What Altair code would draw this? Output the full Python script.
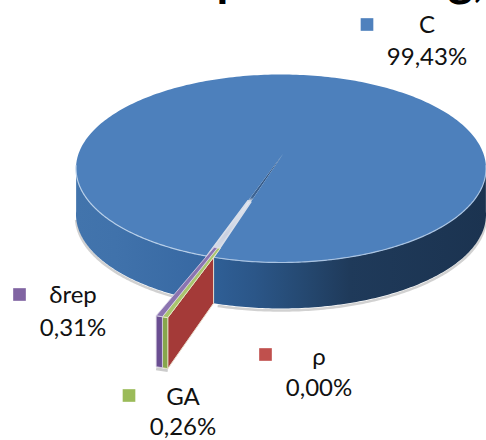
import math

import altair as alt
import pandas as pd

# Share of each component, in the order the slices run clockwise.
names = ["C", "ρ", "GA", "δrep"]
shares = [99.43, 0.00, 0.26, 0.31]
swatches = ["#4F81BD", "#C0504D", "#9BBB59", "#8064A2"]

# Where each legend entry sits: swatch centre, then label centre.
swatch_x = [367, 265.5, 129, 19.5]
swatch_y = [24.5, 354.5, 395.5, 294.5]
label_x = [427, 319, 183, 73]
name_y = [26, 358, 398, 296]
value_y = [58, 389, 428, 329]

# Pie geometry in canvas units.
CX, CY, RX, RY = 281, 168.5, 205, 94
APEX = (283, 154)
DEPTH = 46
DEPTH_OUT = 51
EXPLODE = 1.68
FIRST_ANGLE = 201.25

W, H = 486, 440
x_scale = alt.Scale(domain=[0, W])
y_scale = alt.Scale(domain=[H, 0])


def x_of(field):
    return alt.X(field, scale=x_scale, axis=None)


def y_of(field):
    return alt.Y(field, scale=y_scale, axis=None)


def rim(theta, r=1.0, drop=0.0):
    a = math.radians(theta)
    return (CX + r * RX * math.sin(a), CY - r * RY * math.cos(a) + drop)


def sweep(a, b, r=1.0, drop=0.0, n=120):
    return [rim(a + (b - a) * i / n, r, drop) for i in range(n + 1)]


def toward(p, q, t):
    return (p[0] + (q[0] - p[0]) * t, p[1] + (q[1] - p[1]) * t)


def table(points):
    return pd.DataFrame(
        {"x": [p[0] for p in points], "y": [p[1] for p in points], "i": range(len(points))}
    )


def polygon(points, fill, stroke=None, stroke_width=0.0):
    pts = list(points) + [points[0]]
    mark = alt.Chart(table(pts)).mark_line(
        fill=fill,
        stroke=stroke if stroke else "transparent",
        strokeWidth=stroke_width,
        interpolate="linear",
    )
    return mark.encode(x=x_of("x:Q"), y=y_of("y:Q"), order="i:Q")


def outline(points, color, width, opacity=1.0):
    mark = alt.Chart(table(points)).mark_line(
        color=color, strokeWidth=width, opacity=opacity, interpolate="linear"
    )
    return mark.encode(x=x_of("x:Q"), y=y_of("y:Q"), order="i:Q")


def gradient(stops, horizontal=True):
    return alt.LinearGradient(
        gradient="linear",
        stops=[alt.GradientStop(offset=o, color=c) for o, c in stops],
        x1=0,
        x2=1 if horizontal else 0,
        y1=0,
        y2=0 if horizontal else 1,
    )


# Slice boundaries, clockwise from the top of the pie.
share_sum = sum(shares)
edges = [FIRST_ANGLE]
for s in shares:
    edges.append(edges[-1] + 360 * s / share_sum)
c_end, rho_end, ga_end, delta_end = edges[1:]
rho_a = c_end - 360
ga_a = rho_end - 360
delta_a = ga_end - 360
delta_b = delta_end - 360

layers = []

# Soft ground shadows under the pie and the pulled-out slices.
layers.append(outline(sweep(92, 198, drop=DEPTH + 2), "#9a9a9a", 2.5, 0.45))
layers.append(outline(sweep(203, 268, drop=DEPTH + 2), "#9a9a9a", 2.5, 0.45))
layers.append(
    outline([rim(delta_b, EXPLODE, DEPTH_OUT + 2), rim(rho_a, EXPLODE, DEPTH_OUT + 2)], "#9a9a9a", 3, 0.5)
)

# Side wall of the pie, either side of the gap.
right_top = sweep(88, rho_a)
right_bottom = sweep(rho_a, 88, drop=DEPTH)
layers.append(
    polygon(
        right_top + right_bottom,
        gradient(
            [
                (0, "#2F5F96"),
                (0.15, "#2B5688"),
                (0.3, "#264B75"),
                (0.5, "#1F3A5A"),
                (1, "#1B3350"),
            ]
        ),
    )
)
left_top = sweep(delta_b, 272)
left_bottom = sweep(272, delta_b, drop=DEPTH)
layers.append(
    polygon(
        left_top + left_bottom,
        gradient([(0, "#4274AC"), (0.3, "#4072AB"), (1, "#3768A2")]),
    )
)

# Top face of the large slice, leaving the slit open.
layers.append(
    polygon(
        [rim(rho_a), (APEX[0], APEX[1]), rim(delta_b)],
        gradient(
            [(0, "#1F3F6A"), (0.42, "#3E6595"), (0.46, "#E6EAF2"), (1, "#C9D0E0")],
            horizontal=False,
        ),
    )
)
layers.append(polygon([APEX] + sweep(delta_b, rho_a + 360, n=360), "#4D80BC"))

# Lit inner edges of the slit, over the nearer half of its length.
layers.append(
    polygon(
        [
            toward(APEX, rim(rho_a), 0.46),
            toward(APEX, rim(rho_a), 1.0),
            toward(APEX, rim(delta_b), 1.0),
            toward(APEX, rim(delta_b), 0.46),
        ],
        gradient([(0, "#E6EAF2"), (0.6, "#C9D0E0"), (1, "#DDE1EA")], horizontal=False),
        "#D8DEE9",
        1.6,
    )
)

# Pale bevel along the front of the top edge.
layers.append(outline(sweep(delta_b, 272), "#B7CEE8", 1.2))
layers.append(outline(sweep(88, rho_a), "#A9C3E2", 1.2))

# Exposed cut face of the zero-width slice.
layers.append(
    polygon(
        [
            rim(rho_a),
            rim(rho_a, EXPLODE),
            rim(rho_a, EXPLODE, DEPTH_OUT),
            rim(rho_a, 1.0, DEPTH),
        ],
        "#A43A38",
        "#E9DCCB",
        1.0,
    )
)

# Outer faces of the two thin slices.
layers.append(
    polygon(
        [
            rim(ga_a, EXPLODE),
            rim(delta_a, EXPLODE),
            rim(delta_a, EXPLODE, DEPTH_OUT),
            rim(ga_a, EXPLODE, DEPTH_OUT),
        ],
        "#87A64C",
        "#E9E6C8",
        0.8,
    )
)
layers.append(
    polygon(
        [
            rim(delta_a, EXPLODE),
            rim(delta_b, EXPLODE),
            rim(delta_b, EXPLODE, DEPTH_OUT),
            rim(delta_a, EXPLODE, DEPTH_OUT),
        ],
        "#6A4E91",
        "#D9D2E2",
        0.8,
    )
)

# Top faces of the two thin slices, reaching back over the rim.
layers.append(
    polygon(
        [rim(ga_a, 0.9), rim(ga_a, EXPLODE), rim(delta_a, EXPLODE), rim(delta_a, 0.9)],
        "#A9C56E",
        "#EFEFD2",
        0.8,
    )
)
layers.append(
    polygon(
        [rim(delta_a, 0.9), rim(delta_a, EXPLODE), rim(delta_b, EXPLODE), rim(delta_b, 0.9)],
        "#8B74B0",
        "#DCD6E8",
        0.8,
    )
)

# Legend entries beside the pie.
legend = pd.DataFrame(
    {
        "name": names,
        "swatch": swatches,
        "value": [f"{s:.2f}".replace(".", ",") + "%" for s in shares],
        "sx": swatch_x,
        "sy": swatch_y,
        "lx": label_x,
        "ny": name_y,
        "vy": value_y,
    }
)
layers.append(
    alt.Chart(legend)
    .mark_square(size=160, opacity=1)
    .encode(
        x=x_of("sx:Q"),
        y=y_of("sy:Q"),
        color=alt.Color("swatch:N", scale=None),
    )
)
label_font = dict(font="Lato, Noto Sans", fontSize=24, color="#111111", align="center", baseline="middle")
layers.append(
    alt.Chart(legend)
    .mark_text(**label_font)
    .encode(x=x_of("lx:Q"), y=y_of("ny:Q"), text="name:N")
)
layers.append(
    alt.Chart(legend)
    .mark_text(**label_font)
    .encode(x=x_of("lx:Q"), y=y_of("vy:Q"), text="value:N")
)

# The heading sits mostly above the top edge, so only its descenders show.
heading = pd.DataFrame({"t": ["p", "g,"], "x": [230, 466], "y": [-4, -4]})
layers.append(
    alt.Chart(heading)
    .mark_text(font="Lato", fontSize=48, fontWeight="bold", color="#000000", baseline="alphabetic", align="center")
    .encode(x=x_of("x:Q"), y=y_of("y:Q"), text="t:N")
)

chart = (
    alt.layer(*layers)
    .properties(width=W, height=H, padding=0, background="white", autosize=alt.AutoSizeParams(type="none"))
    .configure_view(stroke=None)
)

chart.save("out.html", embed_options={"renderer": "svg", "actions": False})
